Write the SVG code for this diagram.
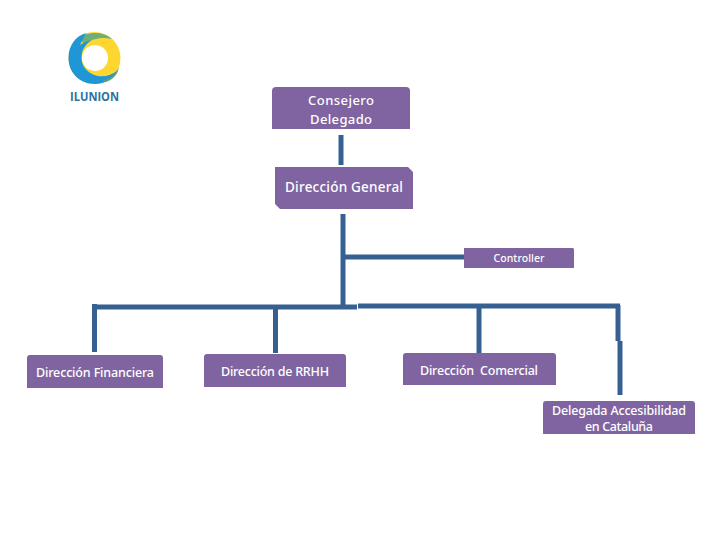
<svg xmlns="http://www.w3.org/2000/svg" width="720" height="540" viewBox="0 0 720 540">
<style>
.box{fill:#8064a2}
.t{font-family:"Noto Sans","DejaVu Sans",sans-serif;font-weight:500;fill:#fff;text-anchor:middle}
.c{fill:none;stroke:#376092;stroke-width:5}
</style>
<rect width="720" height="540" fill="#fff"/>
<g id="logo">
<circle cx="94.500" cy="58" r="26" fill="#fdd632"/>
<path d="M80 37C88 32 103 31 112 39C103 37 92 38 84 45Z" fill="#6fae7a"/>
<path d="M86 33C76 36 68.500 45 68.500 58C68.500 73 80 84 95 84C105 84 113 79 118 70C110 77 100 78 92 74C84 70 80 62 82 53C83 48 87 43 92 40C87 41 83 43 80 45C82 41 84 37 86 33Z" fill="#1f96d6"/>
<path d="M102 81C110 79 116 74 119 67C118 75 112 80 106 82Z" fill="#5d9f7a"/>
<circle cx="95" cy="58" r="13" fill="#fff"/>
<text x="94.500" y="101" style="font-family:'Open Sans',sans-serif;font-weight:700;font-size:11.500px;fill:#2d6f9f;text-anchor:middle" textLength="49" lengthAdjust="spacingAndGlyphs">ILUNION</text>
</g>
<g id="connectors">
<path class="c" d="M341 135V165"/>
<path class="c" d="M343 214V307"/>
<path class="c" d="M343 257H464"/>
<path class="c" d="M92 307H357"/>
<path class="c" d="M358 306H620"/>
<path class="c" d="M94.500 304V352"/>
<path class="c" d="M275.500 307V353"/>
<path class="c" d="M479 306V353"/>
<path class="c" d="M618 305V341"/>
<path class="c" d="M620 341V395"/>
</g>
<g id="consejero">
<path class="box" d="M276 87H406Q410 87 410 91V129H272V91Q272 87 276 87Z"/>
<text class="t" x="341" y="105" font-size="13" textLength="66">Consejero</text>
<text class="t" x="341" y="124" font-size="13" textLength="62">Delegado</text>
</g>
<g id="direccion-general">
<path class="box" d="M275 167H408L413 172V209H280L275 204Z"/>
<text class="t" x="344" y="192" font-size="13.500" textLength="118">Dirección General</text>
</g>
<g id="controller">
<path class="box" d="M464 248H573L574 249V268H464Z"/>
<text class="t" x="519" y="262" font-size="10.500" font-weight="400" textLength="51">Controller</text>
</g>
<g id="direccion-financiera">
<path class="box" d="M30 355H160Q163 355 163 358V388H27V358Q27 355 30 355Z"/>
<text class="t" x="95" y="377" font-size="12.500" textLength="118">Dirección Financiera</text>
</g>
<g id="direccion-rrhh">
<path class="box" d="M207 354H343Q346 354 346 357V387H204V357Q204 354 207 354Z"/>
<text class="t" x="275" y="376" font-size="12.500" textLength="108">Dirección de RRHH</text>
</g>
<g id="direccion-comercial">
<path class="box" d="M406 353H553Q556 353 556 356V385H403V356Q403 353 406 353Z"/>
<text class="t" x="479" y="375" font-size="12.500" textLength="118" xml:space="preserve">Dirección  Comercial</text>
</g>
<g id="delegada">
<path class="box" d="M546 401H692Q695 401 695 404V434H543V404Q543 401 546 401Z"/>
<text class="t" x="619" y="415" font-size="12.500" textLength="134">Delegada Accesibilidad</text>
<text class="t" x="619" y="431" font-size="12.500" textLength="68">en Cataluña</text>
</g>
</svg>
